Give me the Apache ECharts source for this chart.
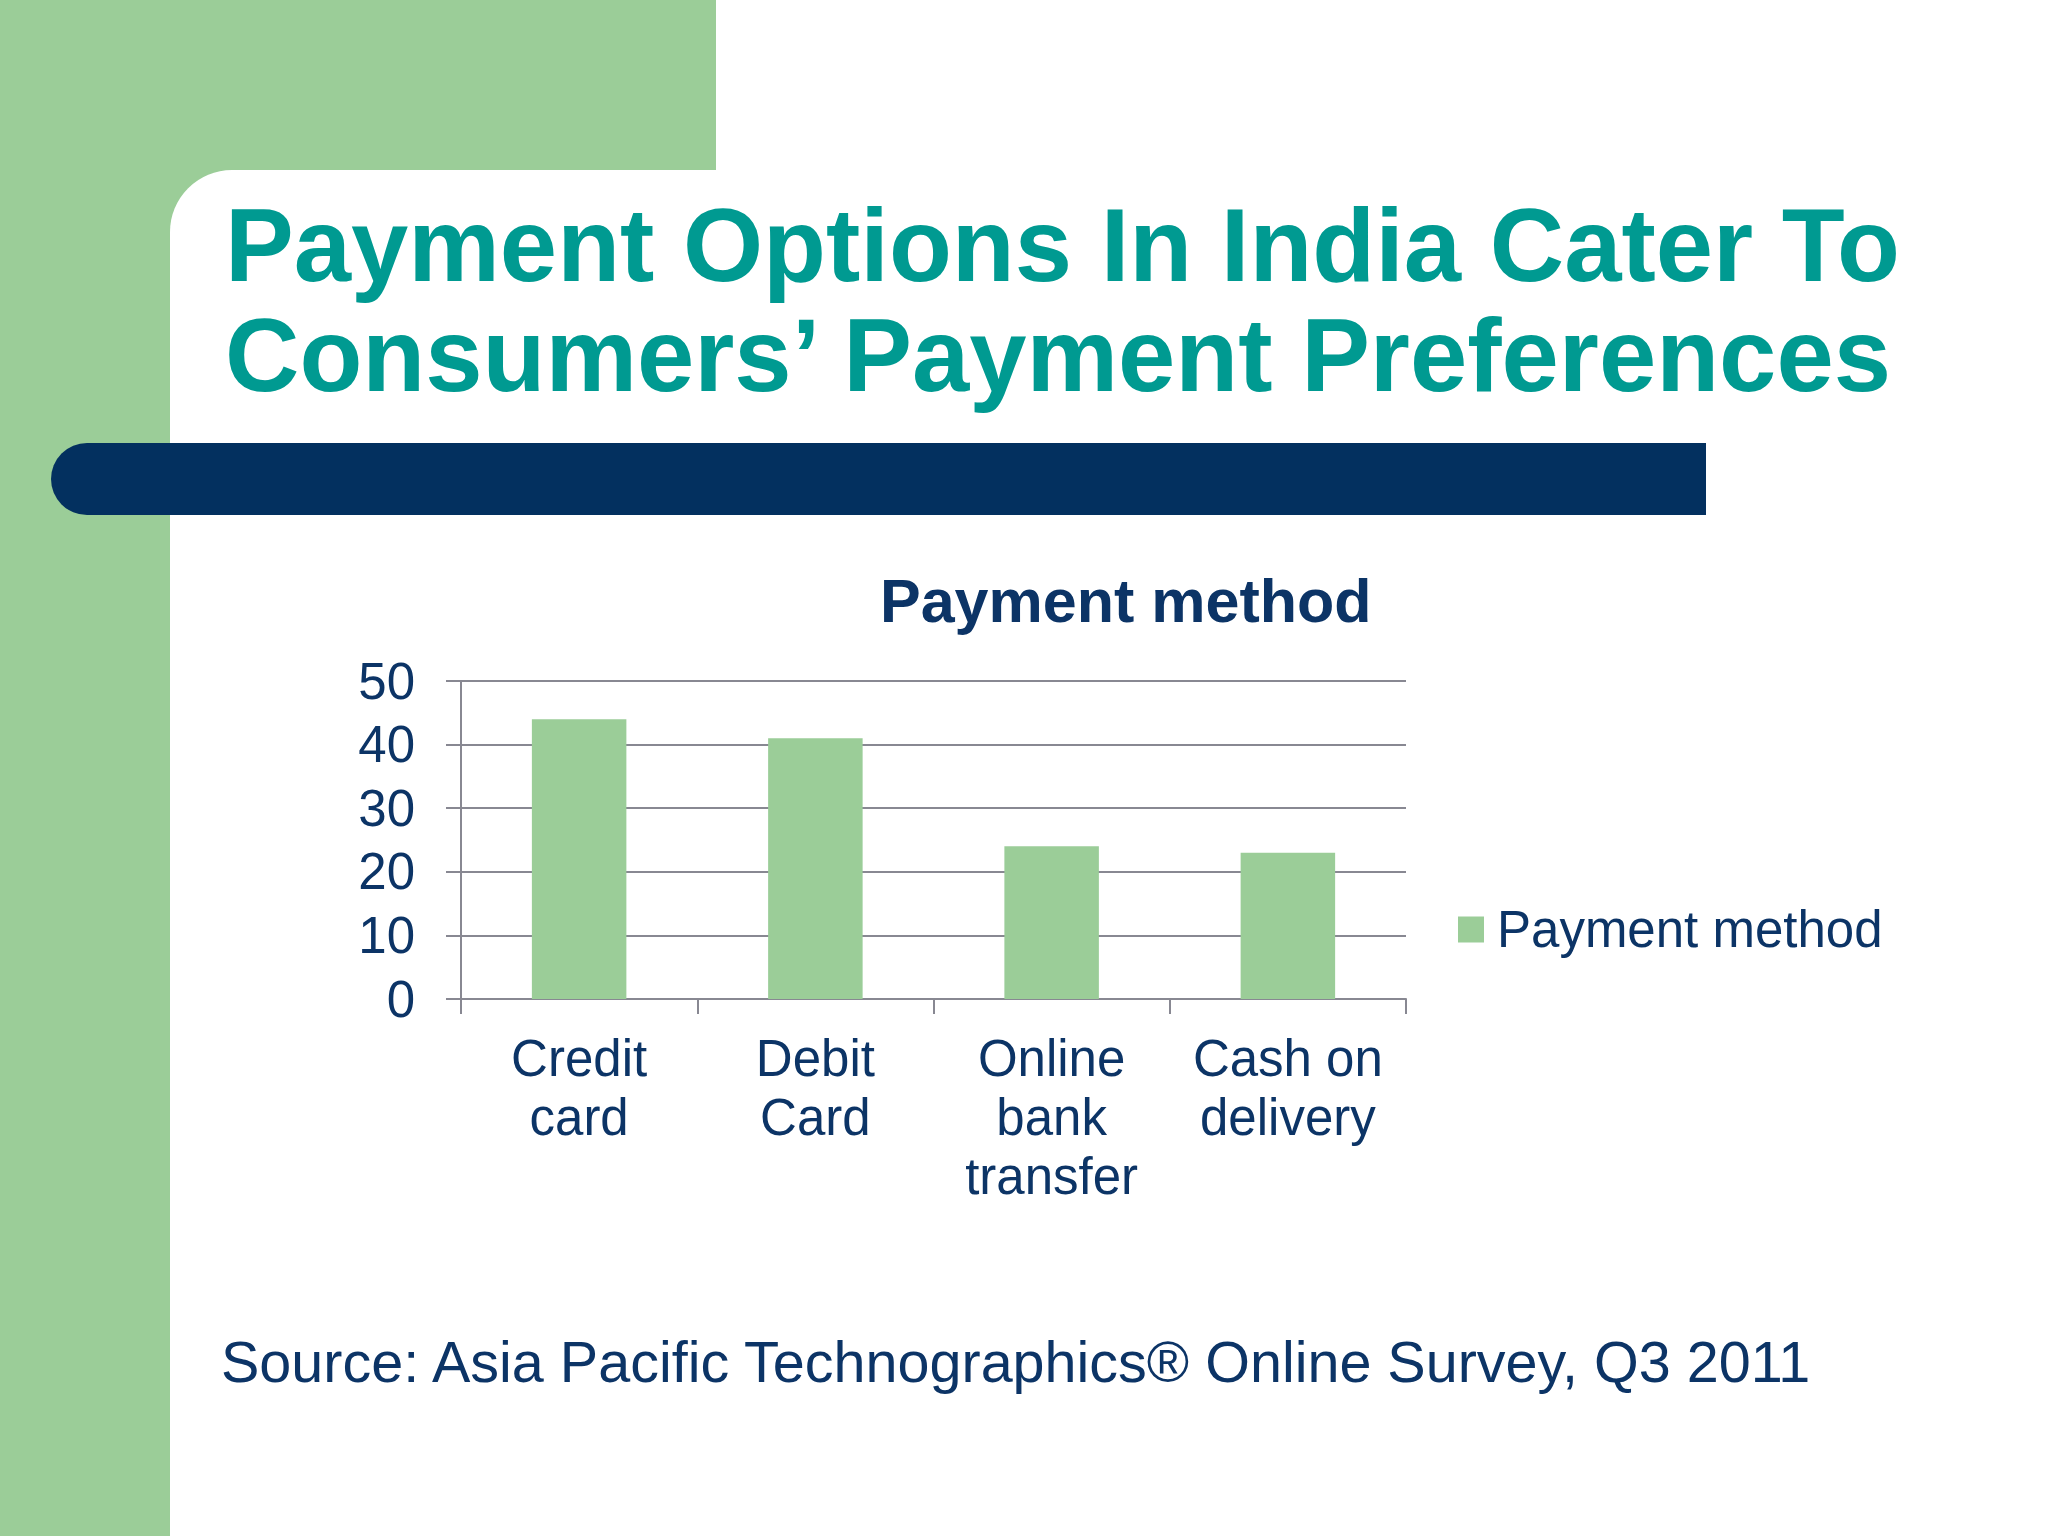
<!DOCTYPE html>
<html>
<head>
<meta charset="utf-8">
<script src="https://cdn.jsdelivr.net/npm/echarts@6/dist/echarts.min.js"></script>
<style>
  html, body { margin: 0; padding: 0; background: #ffffff; }
  #chart { width: 2048px; height: 1536px; }
</style>
</head>
<body>
<div id="chart"></div>
<script>
// ---- data ----
const slideTitle = "Payment Options In India Cater To\nConsumers\u2019 Payment Preferences";
const chartTitle = "Payment method";
const seriesName = "Payment method";
const categories = ["Credit\ncard", "Debit\nCard", "Online\nbank\ntransfer", "Cash on\ndelivery"];
const values = [44, 41, 24, 23];
const yMin = 0, yMax = 50, yStep = 10;
const sourceNote = "Source: Asia Pacific Technographics\u00AE Online Survey, Q3 2011";

// ---- styles ----
const GREEN = '#9BCD98';
const NAVY_TEXT = '#0C3466';
const NAVY_BAR = '#03305F';
const TEAL = '#009A91';
const GRID = '#888892';
const FONT = '"Liberation Sans", Arial, sans-serif';

const chart = echarts.init(document.getElementById('chart'), null, { renderer: 'svg' });

chart.setOption({
  backgroundColor: '#ffffff',
  animation: false,
  graphic: [
    { type: 'rect', z: -10, shape: { x: 0, y: 0, width: 716, height: 300 }, style: { fill: GREEN } },
    { type: 'rect', z: -10, shape: { x: 0, y: 0, width: 170, height: 1536 }, style: { fill: GREEN } },
    { type: 'rect', z: -9, shape: { x: 170, y: 170, width: 1878, height: 1366, r: [62, 0, 0, 0] }, style: { fill: '#ffffff' } },
    { type: 'rect', z: -8, shape: { x: 51, y: 443, width: 1655, height: 72, r: [36, 0, 0, 36] }, style: { fill: NAVY_BAR } }
  ],
  title: [
    {
      text: slideTitle,
      left: 225, top: 190,
      padding: 0,
      textStyle: { fontFamily: FONT, fontWeight: 'bold', fontSize: 103, lineHeight: 110, color: TEAL }
    },
    {
      text: chartTitle,
      left: 880, top: 570,
      padding: 0,
      textStyle: { fontFamily: FONT, fontWeight: 'bold', fontSize: 61, lineHeight: 61, color: NAVY_TEXT }
    },
    {
      text: sourceNote,
      left: 221, top: 1333,
      padding: 0,
      textStyle: { fontFamily: FONT, fontWeight: 'normal', fontSize: 57.5, lineHeight: 57.5, color: NAVY_TEXT }
    }
  ],
  legend: {
    show: true,
    data: [seriesName],
    left: 1458, top: 904,
    padding: 0,
    itemWidth: 26, itemHeight: 26,
    icon: 'rect',
    textStyle: { fontFamily: FONT, fontSize: 51, color: NAVY_TEXT, padding: [0, 0, 0, 8] }
  },
  grid: {
    left: 461, right: 642, top: 681, bottom: 537,
    outerBoundsMode: 'none'
  },
  xAxis: {
    type: 'category',
    data: categories,
    boundaryGap: true,
    axisLine: { show: true, lineStyle: { color: GRID, width: 2 } },
    axisTick: { show: true, alignWithLabel: false, length: 15, lineStyle: { color: GRID, width: 2 } },
    axisLabel: {
      interval: 0, margin: 30, hideOverlap: false,
      fontFamily: FONT, fontSize: 51, lineHeight: 59, color: NAVY_TEXT, align: 'center'
    },
    splitLine: { show: false }
  },
  yAxis: {
    type: 'value',
    min: yMin, max: yMax, interval: yStep,
    axisLine: { show: true, lineStyle: { color: GRID, width: 2 } },
    axisTick: { show: true, length: 15, lineStyle: { color: GRID, width: 2 } },
    axisLabel: { margin: 46, fontFamily: FONT, fontSize: 51, color: NAVY_TEXT },
    splitLine: { show: true, lineStyle: { color: GRID, width: 2 } }
  },
  series: [{
    name: seriesName,
    type: 'bar',
    data: values,
    barWidth: '40%',
    itemStyle: { color: GREEN },
    emphasis: { disabled: true }
  }]
});
</script>
</body>
</html>
